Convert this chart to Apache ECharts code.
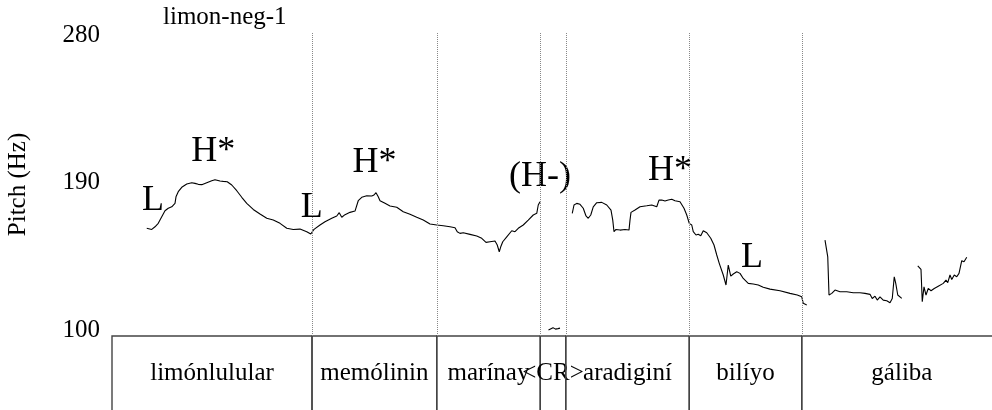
<!DOCTYPE html>
<html>
<head>
<meta charset="utf-8">
<script src="https://cdn.jsdelivr.net/npm/echarts@6/dist/echarts.min.js"></script>
<style>html,body{margin:0;padding:0;background:#fff}#c{width:992px;height:410px}</style>
</head>
<body>
<div id="c"></div>
<script>
// ---- Data (time in s, pitch in Hz) ----
const title = 'limon-neg-1';
const yTicks = [100, 190, 280];
const seg1 = [[0.139,162.1],[0.159,161.4],[0.172,163.0],[0.185,165.1],[0.199,169.1],[0.212,172.8],[0.225,174.3],[0.239,175.2],[0.245,174.9],[0.252,177.3],[0.256,181.3],[0.265,184.4],[0.279,187.1],[0.299,189.1],[0.319,189.9],[0.332,189.5],[0.345,188.9],[0.359,188.7],[0.379,189.9],[0.399,191.1],[0.412,191.7],[0.432,190.9],[0.445,190.7],[0.461,190.5],[0.479,188.5],[0.499,185.0],[0.519,181.0],[0.539,177.3],[0.565,173.6],[0.592,170.8],[0.619,168.2],[0.645,167.1],[0.672,165.1],[0.699,162.1],[0.725,161.4],[0.752,161.6],[0.779,160.0],[0.795,158.6],[0.803,159.0],[0.808,161.4],[0.812,162.1],[0.832,164.1],[0.852,166.1],[0.879,168.2],[0.899,169.6],[0.909,171.6],[0.919,168.8],[0.932,170.4],[0.952,171.8],[0.972,172.6],[0.985,178.9],[0.999,181.0],[1.019,181.9],[1.039,181.8],[1.048,182.4],[1.056,183.8],[1.065,181.3],[1.072,178.9],[1.092,177.3],[1.112,175.7],[1.139,174.9],[1.165,172.2],[1.192,170.6],[1.219,168.8],[1.245,167.1],[1.272,164.7],[1.299,164.1],[1.325,163.6],[1.352,163.0],[1.372,162.4],[1.381,160.0],[1.392,159.0],[1.405,159.4],[1.432,158.4],[1.459,157.4],[1.479,156.0],[1.496,153.5],[1.512,153.9],[1.532,154.3],[1.541,151.9],[1.549,147.8],[1.555,150.8],[1.563,153.9],[1.579,156.9],[1.599,160.6],[1.612,160.0],[1.625,162.1],[1.645,164.1],[1.665,167.1],[1.685,170.2],[1.699,171.2],[1.705,176.3],[1.712,178.3]];
const seg2 = [[1.746,100.1],[1.754,100.9],[1.764,101.5],[1.774,100.6],[1.784,100.9],[1.792,101.2]];
const seg3 = [[1.841,171.2],[1.848,176.3],[1.859,177.3],[1.872,176.7],[1.885,174.3],[1.896,169.6],[1.905,168.2],[1.915,170.2],[1.925,175.2],[1.939,177.7],[1.959,177.9],[1.979,176.3],[1.996,173.2],[2.003,167.1],[2.008,160.0],[2.016,161.4],[2.032,161.0],[2.052,161.4],[2.068,161.0],[2.072,167.1],[2.076,171.8],[2.092,173.2],[2.112,175.2],[2.139,175.8],[2.159,176.3],[2.179,175.2],[2.188,179.3],[2.199,179.3],[2.212,178.7],[2.225,179.3],[2.239,179.8],[2.252,178.9],[2.272,178.3],[2.288,174.3],[2.299,170.2],[2.309,165.1],[2.319,164.1],[2.325,160.0],[2.336,158.0],[2.345,158.4],[2.355,157.5],[2.365,160.6],[2.379,159.4],[2.395,156.0],[2.408,151.9],[2.419,145.8],[2.429,140.7],[2.445,133.6],[2.456,127.5],[2.465,139.7],[2.475,132.9],[2.485,134.2],[2.499,135.6],[2.512,134.6],[2.525,131.5],[2.545,128.5],[2.565,128.1],[2.585,127.5],[2.605,126.1],[2.632,125.0],[2.672,124.0],[2.712,122.4],[2.741,121.4],[2.749,122.0],[2.759,120.3],[2.765,116.3],[2.779,115.3]];
const seg4 = [[2.852,154.9],[2.863,144.7],[2.868,121.4],[2.879,122.4],[2.892,124.4],[2.912,123.4],[2.939,123.4],[2.965,122.8],[2.992,122.8],[3.012,122.4],[3.032,121.8],[3.041,119.3],[3.052,120.7],[3.061,118.3],[3.072,120.3],[3.085,118.3],[3.099,117.9],[3.112,116.7],[3.121,119.3],[3.129,132.5],[3.135,128.5],[3.143,121.4],[3.159,119.3]];
const seg5 = [[3.223,139.1],[3.236,137.0],[3.241,117.3],[3.248,126.4],[3.256,121.4],[3.265,125.4],[3.276,124.0],[3.289,125.4],[3.305,126.8],[3.325,128.5],[3.336,130.5],[3.343,128.9],[3.352,133.6],[3.359,130.9],[3.369,133.6],[3.379,132.5],[3.388,134.6],[3.399,142.3],[3.408,141.7],[3.419,144.4]];
const toneLabels = ['L','H*','L','H*','(H-)','H*','L'];
const toneTimes  = [0.164,0.405,0.799,1.05,1.712,2.232,2.56];
const toneHz     = [179.3,208.9,174.7,202.2,193.4,197.1,144.5];
const wordLabels = ['limónlulular','memólinin','marínay','<CR>','aradiginí','bilíyo','gáliba'];
const wordBounds = [0,0.8,1.299,1.713,1.815,2.309,2.759,3.56];

const FONT = '"Liberation Serif","Times New Roman",serif';
const chart = echarts.init(document.getElementById('c'), null, {renderer:'canvas'});

const lineSeries = [seg1,seg2,seg3,seg4,seg5].map(function(s){
  return {type:'line', xAxisIndex:0, yAxisIndex:0, data:s, showSymbol:false, symbol:'none',
    lineStyle:{color:'#000', width:1.1}, clip:false, animation:false, silent:true};
});
// dotted boundary lines
lineSeries[0].markLine = {
  silent:true, symbol:['none','none'], label:{show:false},
  lineStyle:{color:'#888', type:'dotted', width:1},
  data: wordBounds.slice(1, wordBounds.length-1).map(function(b){
    return [{coord:[b,281.2]},{coord:[b,96.4]}];
  })
};

const words = wordLabels.map(function(w,i){ return [wordBounds[i], wordBounds[i+1]]; });

chart.setOption({
  animation:false,
  backgroundColor:'#fff',
  title:{text:title, left:163, top:5, padding:0, textStyle:{fontFamily:FONT, fontSize:25, fontWeight:'normal', color:'#000'}},
  grid:[
    {left:112, right:0, top:33, bottom:74, outerBoundsMode:'none', containLabel:false},
    {left:112, right:0, top:336, bottom:0, outerBoundsMode:'none', containLabel:false}
  ],
  xAxis:[
    {type:'value', gridIndex:0, min:0, max:3.52, show:false},
    {type:'value', gridIndex:1, min:0, max:3.52, show:false}
  ],
  yAxis:[
    {type:'value', gridIndex:0, min:96.4, max:281.2,
      name:'Pitch (Hz)', nameLocation:'middle', nameGap:81,
      nameTextStyle:{fontFamily:FONT, fontSize:25, color:'#000'},
      axisLine:{show:false}, axisTick:{show:false}, splitLine:{show:false},
      axisLabel:{customValues:yTicks, margin:12, fontFamily:FONT, fontSize:25, color:'#000'}
    },
    {type:'value', gridIndex:1, min:0, max:1, show:false}
  ],
  series: lineSeries.concat([
    {type:'scatter', xAxisIndex:0, yAxisIndex:0, symbolSize:0, itemStyle:{color:'#000', opacity:1},
      data: toneLabels.map(function(l,i){ return {name:l, value:[toneTimes[i], toneHz[i]]}; }),
      label:{show:true, position:'inside', formatter:function(p){return p.name;},
        fontFamily:FONT, fontSize:36, color:'#000', opacity:1, textBorderWidth:0}, silent:true},
    {type:'custom', xAxisIndex:1, yAxisIndex:1, data:words, silent:true, clip:false,
      renderItem:function(params, api){
        const p0 = api.coord([api.value(0), 1]);
        const p1 = api.coord([api.value(1), -0.4]);
        const pt = api.coord([(api.value(0)+api.value(1))/2, 0.5]);
        return {type:'group', children:[
          {type:'rect', shape:{x:p0[0], y:p0[1], width:p1[0]-p0[0], height:p1[1]-p0[1]},
            style:{fill:null, stroke:'#444', lineWidth:1.4}},
          {type:'text', x:pt[0], y:pt[1], style:{text:wordLabels[params.dataIndex], fill:'#000', font:'25px '+FONT, textAlign:'center', textVerticalAlign:'middle'}}
        ]};
      },
      encode:{x:[0,1]}
    }
  ])
});
</script>
</body>
</html>
